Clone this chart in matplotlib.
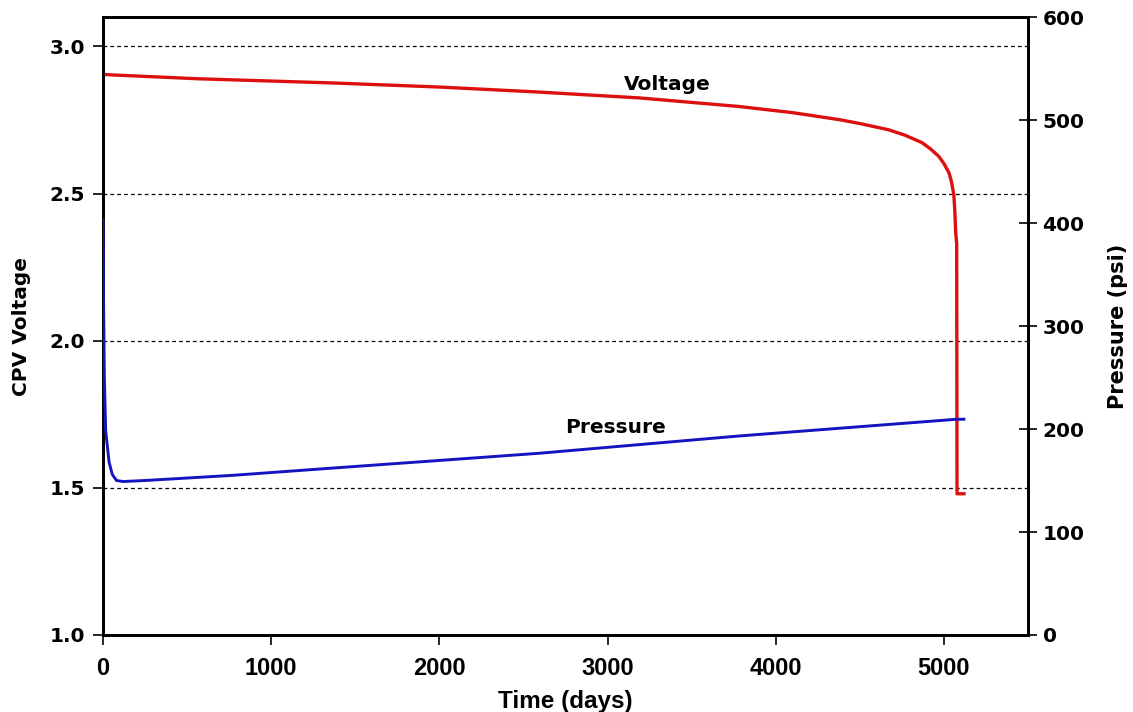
import matplotlib.pyplot as plt

# valores
tempo_tensao = [0, 60, 570, 1360, 2000, 2590, 3190, 3780, 4100, 4380, 4500,
                4670, 4770, 4870, 4920, 4970, 5000, 5030, 5045, 5059, 5065,
                5070, 5076, 5078, 5119]
tensao = [2.905, 2.903, 2.890, 2.876, 2.862, 2.845, 2.825, 2.796, 2.775, 2.751,
          2.738, 2.717, 2.698, 2.673, 2.652, 2.626, 2.602, 2.571, 2.540, 2.496,
          2.44, 2.367, 2.33, 1.48, 1.48]

tempo_pressao = [0, 3, 8, 16, 36, 55, 80, 120, 250, 770, 1360, 1960, 2590,
                 3780, 5070, 5119]
pressao = [403, 330, 250, 198, 168, 156, 150, 149, 150, 155, 162, 169, 176.4,
           193.2, 209.4, 209.5]

ticks_tensao = [1.0, 1.5, 2.0, 2.5, 3.0]
ticks_pressao = [0, 100, 200, 300, 400, 500, 600]
ticks_tempo = [0, 1000, 2000, 3000, 4000, 5000]

FONTE = 'DejaVu Sans'
FONTE_X = 'Liberation Sans'
TAM = 14.5

plt.rcParams['font.family'] = FONTE
plt.rcParams['font.weight'] = 'bold'

fig = plt.figure(figsize=(11.33, 7.12), dpi=100)
ax = fig.add_axes([103 / 1133, 1 - 635 / 712, (1028 - 103) / 1133, (635 - 17) / 712])
ax2 = ax.twinx()

ax.plot(tempo_tensao, tensao, color='#dd1010', linewidth=2.4, zorder=3)
ax2.plot(tempo_pressao, pressao, color='#1414c0', linewidth=2.1, zorder=3)

ax.set_xlim(0, 5500)
ax.set_ylim(1.0, 3.1)
ax2.set_ylim(0, 600)
ax.set_xticks(ticks_tempo)
ax.set_yticks(ticks_tensao)
ax.set_yticklabels([f'{v:.1f}' for v in ticks_tensao])
ax2.set_yticks(ticks_pressao)

for v in ticks_tensao[1:]:
    ax.axhline(v, color='black', linestyle=(0, (3, 2.5)), linewidth=0.9, zorder=1)

for a in (ax, ax2):
    for s in a.spines.values():
        s.set_linewidth(2.0)
        s.set_color('black')

ax.tick_params(axis='y', direction='out', length=7, width=1.2, labelsize=TAM, pad=6)
ax.tick_params(axis='x', direction='out', length=7, width=1.2, labelsize=17, pad=9)
ax2.tick_params(axis='y', direction='inout', length=13, width=1.2, labelsize=TAM, pad=4)
for lab in ax.get_xticklabels():
    lab.set_family(FONTE_X)
    lab.set_fontweight('bold')

ax.set_ylabel('CPV Voltage', fontsize=TAM, fontweight='bold', labelpad=13)
ax2.set_ylabel('Pressure (psi)', fontsize=TAM + 0.5, fontweight='bold', labelpad=17)
ax.set_xlabel('Time (days)', fontsize=17.5, fontweight='bold', family=FONTE_X, labelpad=7)

ax.text(3353, 2.870, 'Voltage', fontsize=TAM, fontweight='bold', ha='center', va='center')
ax.text(3050, 1.704, 'Pressure', fontsize=TAM, fontweight='bold', ha='center', va='center')

fig.savefig('out.png', dpi=100)
